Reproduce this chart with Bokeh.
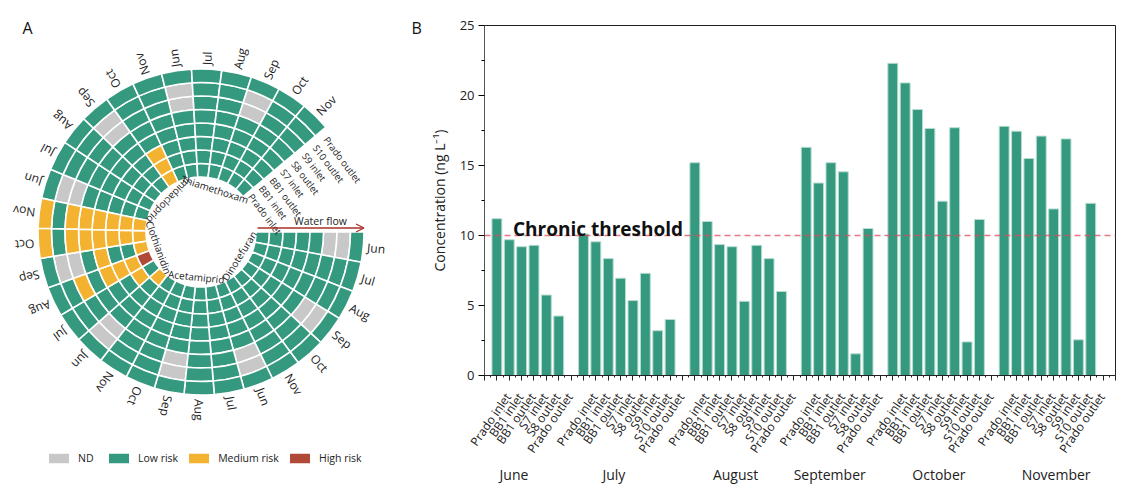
import math
from bokeh.plotting import figure
from bokeh.models import (ColumnDataSource, Range1d, Label, Span, Arrow, OpenHead,
                          FixedTicker, Legend, LegendItem, LinearAxis)
from bokeh.layouts import row, column
from bokeh.embed import file_html
from bokeh.resources import INLINE
from bokeh.core.properties import value

FONT = "Open Sans"

# ------------------------------------------------------------------ data
# Panel A: risk status per compound, month (Jun..Nov), site (inner -> outer ring)
# codes: N = ND, L = low risk, M = medium risk, H = high risk
compounds = ["Dinotefuran", "Acetamiprid", "Clothianidin", "Imidacloprid", "Thiamethoxam"]
ring_months = ["Jun", "Jul", "Aug", "Sep", "Oct", "Nov"]
ring_sites = ["Prado inlet", "BB1 inlet", "BB1 outlet", "S7 inlet",
              "S8 outlet", "S9 inlet", "S10 outlet", "Prado outlet"]
dinotefuran_risk = ["LLLLLNNL", "LLLLLLLL", "LLLLLLLL", "LLLLLNNL", "LLLLLLLL", "LLLLLLLL"]
acetamiprid_risk = ["LLLLLNNL", "LLLLLLLL", "LLLLLLLL", "LLLLLNNL", "LLLLLLLL", "LLLLLLLL"]
clothianidin_risk = ["MLLLLNNL", "LMLLLLLL", "HMMMLMLL", "MLLMLNNL", "MMMMMMLM", "MMMMMMLM"]
imidacloprid_risk = ["LLLLLNNL", "LLLLLLLL", "LLLLLLLL", "LLLLLNNL", "MMMLLLLL", "LLLLLLLL"]
thiamethoxam_risk = ["LLLLLNNL", "LLLLLLLL", "LLLLLLLL", "LLLLLNNL", "LLLLLLLL", "LLLLLLLL"]
risk_codes = ["N", "L", "M", "H"]
risk_labels = ["ND", "Low risk", "Medium risk", "High risk"]
risk_colors = ["#c8c8c8", "#34997f", "#f3b331", "#b04a37"]

# Panel B: concentrations (ng/L)
months = ["June", "July", "August", "September", "October", "November"]
sites_6 = ["Prado inlet", "BB1 inlet", "BB1 outlet", "S7 inlet", "S8 outlet", "Prado outlet"]
sites_8 = ["Prado inlet", "BB1 inlet", "BB1 outlet", "S7 inlet", "S8 outlet",
           "S9 inlet", "S10 outlet", "Prado outlet"]
month_sites = [sites_6, sites_8, sites_8, sites_6, sites_8, sites_8]
conc_june = [11.2, 9.7, 9.2, 9.3, 5.75, 4.25]
conc_july = [10.1, 9.55, 8.35, 6.95, 5.35, 7.3, 3.2, 4.0]
conc_august = [15.2, 11.0, 9.35, 9.2, 5.3, 9.3, 8.35, 6.0]
conc_september = [16.3, 13.75, 15.2, 14.55, 1.55, 10.5]
conc_october = [22.3, 20.9, 19.0, 17.65, 12.45, 17.7, 2.4, 11.15]
conc_november = [17.8, 17.45, 15.5, 17.1, 11.9, 16.9, 2.55, 12.3]
month_values = [conc_june, conc_july, conc_august, conc_september, conc_october, conc_november]
chronic_threshold = 10
y_ticks = [0, 5, 10, 15, 20, 25]

# ------------------------------------------------------------------ panel A
W_A, H = 426, 486
pA = figure(width=W_A, height=H, x_range=Range1d(0, W_A), y_range=Range1d(0, H),
            output_backend="svg", toolbar_location=None, min_border=0,
            x_axis_location=None, y_axis_location=None, outline_line_color=None)
pA.grid.visible = False

CX, CY = 200.5, H - 231.5
R_IN, RING_W = 55.0, 13.5
SPAN_DEG = 320.0
n_cols = len(compounds) * len(ring_months)
col_w = math.radians(SPAN_DEG / n_cols)

risk_table = [dinotefuran_risk, acetamiprid_risk, clothianidin_risk,
              imidacloprid_risk, thiamethoxam_risk]
cells = {c: dict(ri=[], ro=[], a0=[], a1=[]) for c in risk_codes}
for ci, comp_risk in enumerate(risk_table):
    for mi, code in enumerate(comp_risk):
        col = ci * len(ring_months) + mi
        for k, ch in enumerate(code):
            d = cells[ch]
            d["ri"].append(R_IN + k * RING_W)
            d["ro"].append(R_IN + (k + 1) * RING_W)
            d["a0"].append(-(col + 1) * col_w)
            d["a1"].append(-col * col_w)

legend_items = []
for code, lab, colr in zip(risk_codes, risk_labels, risk_colors):
    d = cells[code]
    src = ColumnDataSource(dict(x=[CX] * len(d["ri"]), y=[CY] * len(d["ri"]), **d))
    r = pA.annular_wedge(x="x", y="y", inner_radius="ri", outer_radius="ro",
                         start_angle="a0", end_angle="a1", fill_color=colr,
                         line_color="white", line_width=1.6, source=src)
    legend_items.append(LegendItem(label=lab, renderers=[r]))

legend = Legend(items=legend_items, orientation="horizontal", location=(45, 21),
                glyph_width=27, glyph_height=14, label_standoff=6, spacing=7,
                padding=0, margin=0, label_height=14,
                label_text_font=FONT, label_text_font_size="10.5px",
                label_text_color="#222222", border_line_color=None,
                background_fill_alpha=0)
pA.add_layout(legend)

# month labels around the ring
R_LAB = 167
mx, my, mt, ma = [], [], [], []
for ci in range(len(compounds)):
    for mi, m in enumerate(ring_months):
        col = ci * len(ring_months) + mi
        phi = -(col + 0.5) * col_w
        mx.append(CX + R_LAB * math.cos(phi))
        my.append(CY + R_LAB * math.sin(phi))
        mt.append(m)
        ma.append(phi)
pA.text(x=mx, y=my, text=mt, angle=ma, text_align="left", text_baseline="middle",
        text_font=value(FONT), text_font_size="12px", text_color="#222222")

# compound labels inside
R_CMP = 45
cx_, cy_, ct_, ca_ = [], [], [], []
for ci, comp in enumerate(compounds):
    th = (ci * len(ring_months) + len(ring_months) / 2) * SPAN_DEG / n_cols
    phi = math.radians(-th)
    cx_.append(CX + R_CMP * math.cos(phi))
    cy_.append(CY + R_CMP * math.sin(phi))
    ct_.append(comp)
    if th > 270:
        ca_.append(math.radians(-(th + 90)))
    else:
        ca_.append(math.radians(90 - th))
pA.text(x=cx_, y=cy_, text=ct_, angle=ca_, text_align="center", text_baseline="middle",
        text_font=value(FONT), text_font_size="10px", text_color="#222222")

# site labels in the gap
TH_SITE = 323.0
phi_s = math.radians(-TH_SITE)
sx_, sy_ = [], []
for k in range(len(ring_sites)):
    rr = R_IN + (k + 0.5) * RING_W
    sx_.append(CX + rr * math.cos(phi_s))
    sy_.append(CY + rr * math.sin(phi_s))
pA.text(x=sx_, y=sy_, text=ring_sites, angle=math.radians(-(TH_SITE + 90)),
        text_align="left", text_baseline="middle",
        text_font=value(FONT), text_font_size="9.5px", text_color="#222222")

# water flow arrow
pA.add_layout(Arrow(x_start=CX + R_IN + 1.5, y_start=H - 227.5,
                    x_end=CX + R_IN + 8 * RING_W, y_end=H - 227.5,
                    line_color="#a9302a", line_width=1.3,
                    end=OpenHead(size=8, line_color="#a9302a", line_width=1.3)))
pA.text(x=[320], y=[H - 220], text=["Water flow"], text_align="center",
        text_baseline="middle", text_font=value(FONT), text_font_size="10.5px",
        text_color="#222222")
pA.text(x=[22, 411], y=[H - 27, H - 27], text=["A", "B"], text_align="left",
        text_baseline="alphabetic", text_font=value(FONT), text_font_size="16px",
        text_color="#111111")

# ------------------------------------------------------------------ panel B
slots = []
slot_sites = {}
s = 1
for sites, vals in zip(month_sites, month_values):
    for site in sites:
        slots.append(s)
        slot_sites[s] = site
        s += 1
    s += 1
n_slots = s
all_vals = [v for vals in month_values for v in vals]

pB = figure(width=1121 - W_A, height=H, x_range=Range1d(0, n_slots), y_range=Range1d(0, 25),
            output_backend="svg", toolbar_location=None,
            min_border_left=484 - W_A, min_border_right=6, min_border_top=25,
            min_border_bottom=110)
pB.grid.visible = False
pB.outline_line_color = "#222222"
pB.outline_line_width = 1

pB.vbar(x=slots, top=all_vals, width=0.8, fill_color="#34997f",
        line_color="#b9ddd2", line_width=1)

pB.add_layout(Span(location=chronic_threshold, dimension="width", line_color="#dd4a5c",
                   line_alpha=0.75, line_dash="6 4", line_width=1.5))
pB.add_layout(Label(x=2.3, y=chronic_threshold + 0.45, text="Chronic threshold",
                    text_font=FONT, text_font_size="19px", text_font_style="bold",
                    text_color="#111111", text_baseline="alphabetic"))

# axis 1: tick marks only
xa = pB.xaxis[0]
xa.ticker = FixedTicker(ticks=list(range(0, n_slots + 1)),
                        minor_ticks=[i + 0.5 for i in range(0, n_slots)])
xa.major_label_overrides = {i: "" for i in range(0, n_slots + 1)}
xa.major_label_text_font_size = "0px"
xa.major_label_standoff = 0
xa.major_tick_out = 5
xa.major_tick_in = 0
xa.minor_tick_out = 2
xa.minor_tick_in = 0
xa.axis_line_color = "#222222"
xa.major_tick_line_color = "#222222"
xa.minor_tick_line_color = "#222222"

# axis 2: site labels (slightly offset to the right, as in the original)
LAB_SHIFT = 0.9
site_ticks = [sl + LAB_SHIFT for sl in slots]
xs = LinearAxis(ticker=FixedTicker(ticks=site_ticks, minor_ticks=[]),
                major_label_overrides={t: slot_sites[sl] for t, sl in zip(site_ticks, slots)},
                major_label_orientation=math.radians(55),
                major_label_text_font=FONT, major_label_text_font_size="12px",
                major_label_text_color="#222222", major_label_standoff=14,
                major_tick_out=0, major_tick_in=0, minor_tick_out=0, minor_tick_in=0,
                axis_line_color=None, major_tick_line_color=None, minor_tick_line_color=None)
pB.add_layout(xs, "below")

# axis 3: month names
month_label_x = [2.38, 10.46, 20.29, 27.9, 36.73, 46.2]
xm = LinearAxis(ticker=FixedTicker(ticks=month_label_x, minor_ticks=[]),
                major_label_overrides={t: m for t, m in zip(month_label_x, months)},
                major_label_text_font=FONT, major_label_text_font_size="14px",
                major_label_text_color="#222222", major_label_standoff=0,
                major_tick_out=0, major_tick_in=0, minor_tick_out=0, minor_tick_in=0,
                axis_line_color=None, major_tick_line_color=None, minor_tick_line_color=None)
pB.add_layout(xm, "below")

ya = pB.yaxis[0]
ya.ticker = FixedTicker(ticks=y_ticks, minor_ticks=[t + 2.5 for t in y_ticks[:-1]])
ya.major_label_text_font = FONT
ya.major_label_text_font_size = "13px"
ya.major_label_text_color = "#222222"
ya.major_label_standoff = 4
ya.major_tick_out = 6
ya.major_tick_in = 0
ya.minor_tick_out = 3
ya.minor_tick_in = 0
ya.axis_line_color = "#555555"
ya.axis_label = "Concentration (ng L\u207b\u00b9)"
ya.axis_label_text_font = FONT
ya.axis_label_text_font_size = "14px"
ya.axis_label_text_font_style = "normal"
ya.axis_label_text_color = "#222222"
ya.axis_label_standoff = 8

layout = row(column(pA), column(pB))
open("out.html", "w").write(file_html(layout, INLINE))
